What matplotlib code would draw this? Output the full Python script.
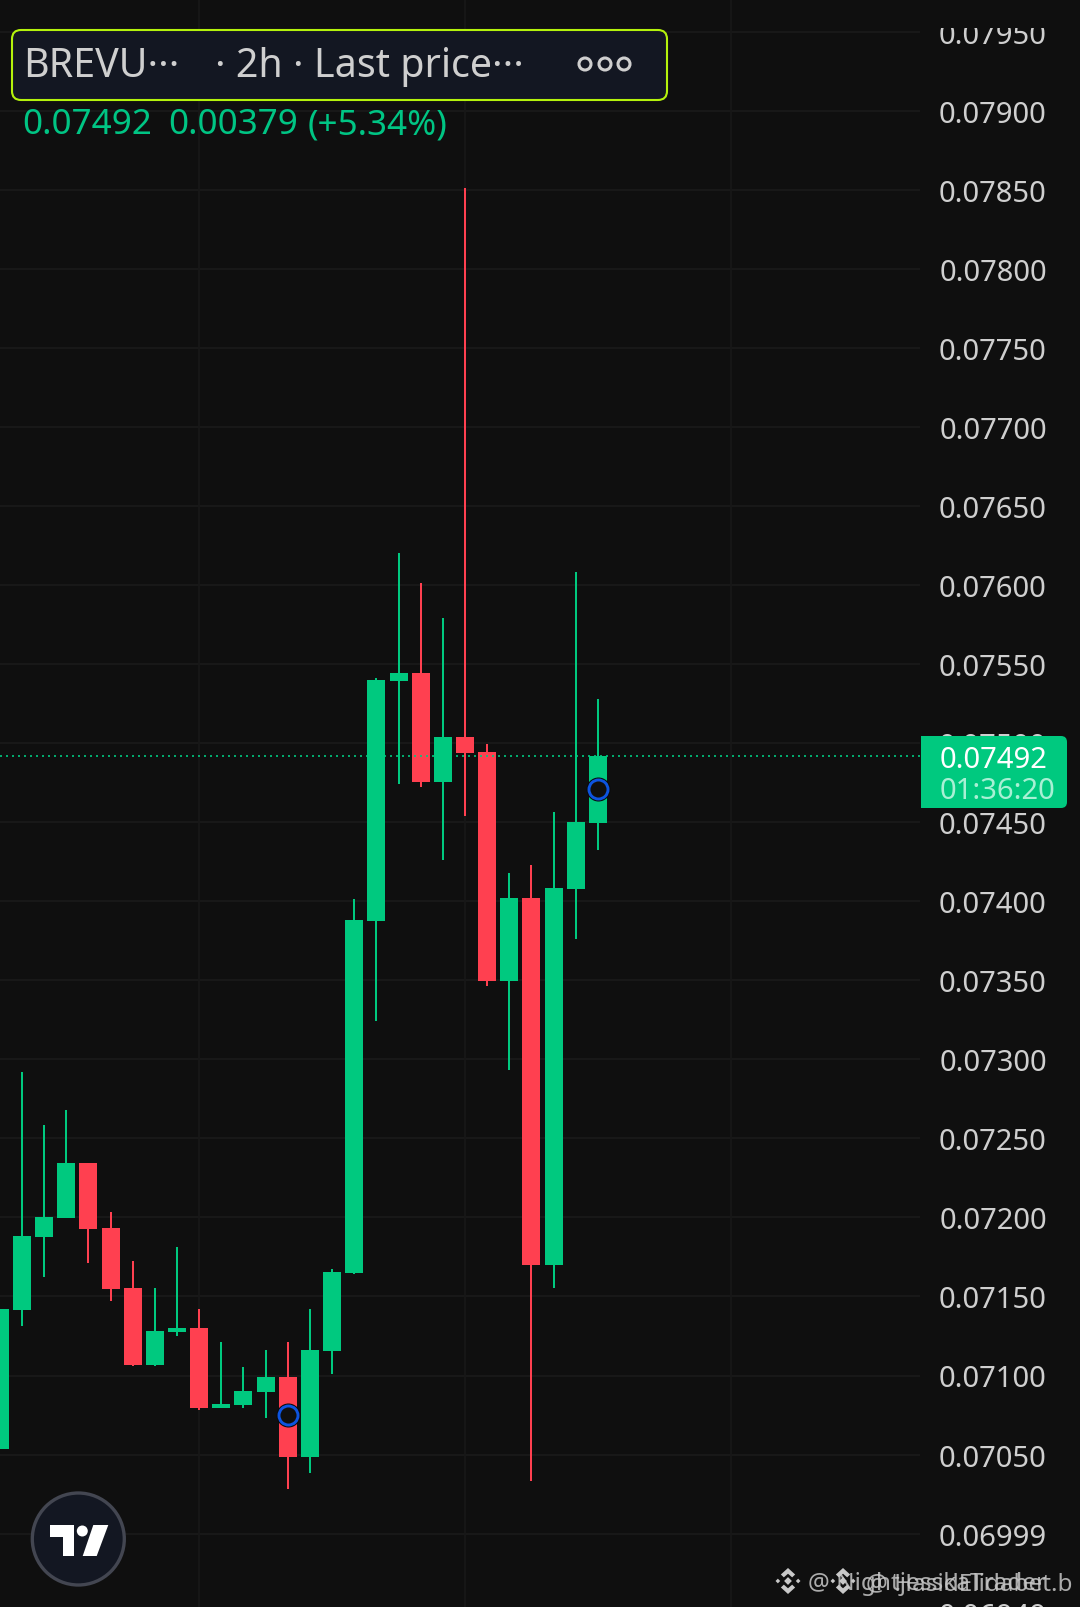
import matplotlib
matplotlib.use("Agg")
import matplotlib.pyplot as plt
from matplotlib.patches import FancyBboxPatch, Circle, Polygon
from matplotlib.transforms import Bbox

plt.rcParams['font.family'] = ['Noto Sans', 'DejaVu Sans']

# candle values
candle_idx = list(range(28))
opens = [0.070535, 0.071414, 0.071876, 0.071996, 0.072344, 0.071933, 0.071554, 0.071066, 0.071275, 0.071301,
         0.070795, 0.070813, 0.070896, 0.070991, 0.070485, 0.071155, 0.071648, 0.073875, 0.075393, 0.075443,
         0.074754, 0.075039, 0.074944, 0.073495, 0.074020, 0.071696, 0.074077, 0.074495]
closes = [0.071421, 0.071882, 0.072003, 0.072344, 0.071927, 0.071547, 0.071066, 0.071282, 0.071301, 0.070795,
          0.070820, 0.070902, 0.070991, 0.070485, 0.071161, 0.071655, 0.073881, 0.075399, 0.075443, 0.074754,
          0.075039, 0.074937, 0.073495, 0.074020, 0.071696, 0.074084, 0.074501, 0.074920]
highs = [0.071421, 0.072920, 0.072584, 0.072679, 0.072344, 0.072034, 0.071724, 0.071554, 0.071813, 0.071421,
         0.071212, 0.071054, 0.071161, 0.071212, 0.071421, 0.071674, 0.074014, 0.075412, 0.076202, 0.076013,
         0.075791, 0.078511, 0.074994, 0.074178, 0.074229, 0.074564, 0.076082, 0.075279]
lows = [0.070535, 0.071313, 0.071623, 0.071996, 0.071712, 0.071471, 0.071060, 0.071060, 0.071250, 0.070782,
        0.070795, 0.070795, 0.070731, 0.070282, 0.070383, 0.071010, 0.071642, 0.073242, 0.074741, 0.074722,
        0.074261, 0.074539, 0.073464, 0.072932, 0.070333, 0.071554, 0.073761, 0.074324]

grid_prices = [0.0795, 0.0790, 0.0785, 0.0780, 0.0775, 0.0770, 0.0765, 0.0760, 0.0755, 0.0750, 0.0745,
               0.0740, 0.0735, 0.0730, 0.0725, 0.0720, 0.0715, 0.0710, 0.0705, 0.0700, 0.0695]
price_labels = ["0.07950", "0.07900", "0.07850", "0.07800", "0.07750", "0.07700", "0.07650", "0.07600",
                "0.07550", "0.07500", "0.07450", "0.07400", "0.07350", "0.07300", "0.07250", "0.07200",
                "0.07150", "0.07100", "0.07050", "0.06999", "0.06949"]
grid_candles = [9, 21, 33]
last_price = 0.07492
marker_idx = [13, 27]
marker_prices = [0.070747, 0.074710]

BG = "#0f0f0f"
GREEN = "#00c97f"
RED = "#ff4050"
GRID = "#191919"
TXT = "#cfcfcf"

fig = plt.figure(figsize=(10.8, 16.08), dpi=100, facecolor=BG)
ax = fig.add_axes([0, 0, 1, 1], facecolor=BG)
ax.set_xlim(0.0068, 48.77)
ax.set_ylim(0.0760 - 1022 / 158100, 0.0760 + 586 / 158100)
ax.axis("off")

# grid stops where the price scale starts
ax.hlines(grid_prices, 0.0068, 41.54, color=GRID, lw=1.4, zorder=1)
ax.vlines(grid_candles, 0.0695, 0.0798, color="#171717", lw=1.4, zorder=1)

colors = [GREEN if c >= o else RED for o, c in zip(opens, closes)]
bottoms = [min(o, c) for o, c in zip(opens, closes)]
heights = [abs(c - o) for o, c in zip(opens, closes)]
ax.vlines(candle_idx, lows, highs, colors=colors, lw=1.44, zorder=2)
ax.bar(candle_idx, heights, width=0.813, bottom=bottoms, color=colors, lw=0, zorder=3)

ax.hlines([last_price], 0.0068, 41.54, color=GREEN, lw=1.2, linestyles=[(0, (1.2, 2.4))], zorder=4)

ax.plot(marker_idx, marker_prices, "o", ms=17.3, mfc="#0a0a0a", mec="none", zorder=5)
ax.plot(marker_idx, marker_prices, "o", ms=13.7, mfc=BG, mec="#0d54e0", mew=2.1, zorder=6)

lab_trans = ax.get_yaxis_transform()
for p, lab in zip(grid_prices, price_labels):
    t = ax.text(993 / 1080, p, lab, transform=lab_trans, ha="center", va="center_baseline",
                fontsize=21, color=TXT, zorder=4)
    if lab == "0.07950":
        t.set_clip_box(Bbox([[0, 0], [1080, 1579]]))
        t.set_clip_on(True)

# header, badge, logo and watermark go on an overlay in pixels
ov = fig.add_axes([0, 0, 1, 1], facecolor="none")
ov.set_xlim(0, 1080)
ov.set_ylim(1608, 0)
ov.axis("off")

ov.add_patch(FancyBboxPatch((12, 31), 655, 70, boxstyle="round,pad=0,rounding_size=9",
                            fc="#131722", ec="#b4f20c", lw=1.5))
ov.text(23, 77, "BREVU···", fontsize=28.4, color=TXT, va="baseline")
ov.text(215, 77, "· 2h · Last price···", fontsize=28.4, color=TXT, va="baseline")
for cx in [585, 605, 624]:
    ov.add_patch(Circle((cx, 65), 6, fc="none", ec=TXT, lw=2.2))
ov.text(22, 134, "0.07492", fontsize=25.2, color="#00c584", va="baseline")
ov.text(168, 134, "0.00379", fontsize=25.2, color="#00c584", va="baseline")
ov.text(308, 134, "(+5.34%)", fontsize=25.2, color="#00c584", va="baseline")

# price badge, square on the left
ov.add_patch(FancyBboxPatch((921, 737), 146, 72, boxstyle="round,pad=0,rounding_size=6", fc=GREEN, ec="none"))
ov.add_patch(plt.Rectangle((921, 737), 20, 72, fc=GREEN, ec="none"))
ov.text(993.5, 768, "0.07492", fontsize=21, color="white", ha="center", va="baseline")
ov.text(997.5, 799, "01:36:20", fontsize=21, color="#a8f0d4", ha="center", va="baseline")

# tradingview logo
ov.add_patch(Circle((78.3, 1540), 46, fc="#131722", ec="#434651", lw=2.4))
ov.add_patch(Polygon([(50, 1526), (74, 1526), (74, 1557), (63.3, 1557), (63.3, 1537.5), (50, 1537.5)], fc="white", ec="none"))
ov.add_patch(Circle((82.3, 1532), 5.5, fc="white", ec="none"))
ov.add_patch(Polygon([(93.3, 1526), (108.3, 1526), (96.7, 1557), (82.7, 1557)], fc="white", ec="none"))


def binance_icon(cx, cy, r, col):
    s = r * 0.3
    ov.add_patch(Polygon([(cx - s, cy), (cx, cy - s), (cx + s, cy), (cx, cy + s)], fc=col, ec="none"))
    for dx, dy in [(-r * 0.78, 0), (r * 0.78, 0)]:
        ov.add_patch(Polygon([(cx + dx - s * .6, cy), (cx + dx, cy - s * .6), (cx + dx + s * .6, cy), (cx + dx, cy + s * .6)],
                             fc=col, ec="none"))
    for sy in [-1, 1]:
        ov.add_patch(Polygon([(cx - r * .55, cy + sy * r * .5), (cx, cy + sy * r), (cx + r * .55, cy + sy * r * .5),
                              (cx + r * .32, cy + sy * r * .28), (cx, cy + sy * r * .56), (cx - r * .32, cy + sy * r * .28)],
                             fc=col, ec="none"))


binance_icon(788, 1582, 13, "#c8c8c8")
binance_icon(843, 1582, 13, "#c8c8c8")
ov.text(808, 1590, "@ NightjesskaTrader", fontsize=17.5, color="#c8c8c8", alpha=0.85, va="baseline")
ov.text(866, 1590, "@ HasidElidabet.b", fontsize=17.5, color="#c8c8c8", alpha=0.85, va="baseline")

fig.savefig("out.png", dpi=100, facecolor=BG)
